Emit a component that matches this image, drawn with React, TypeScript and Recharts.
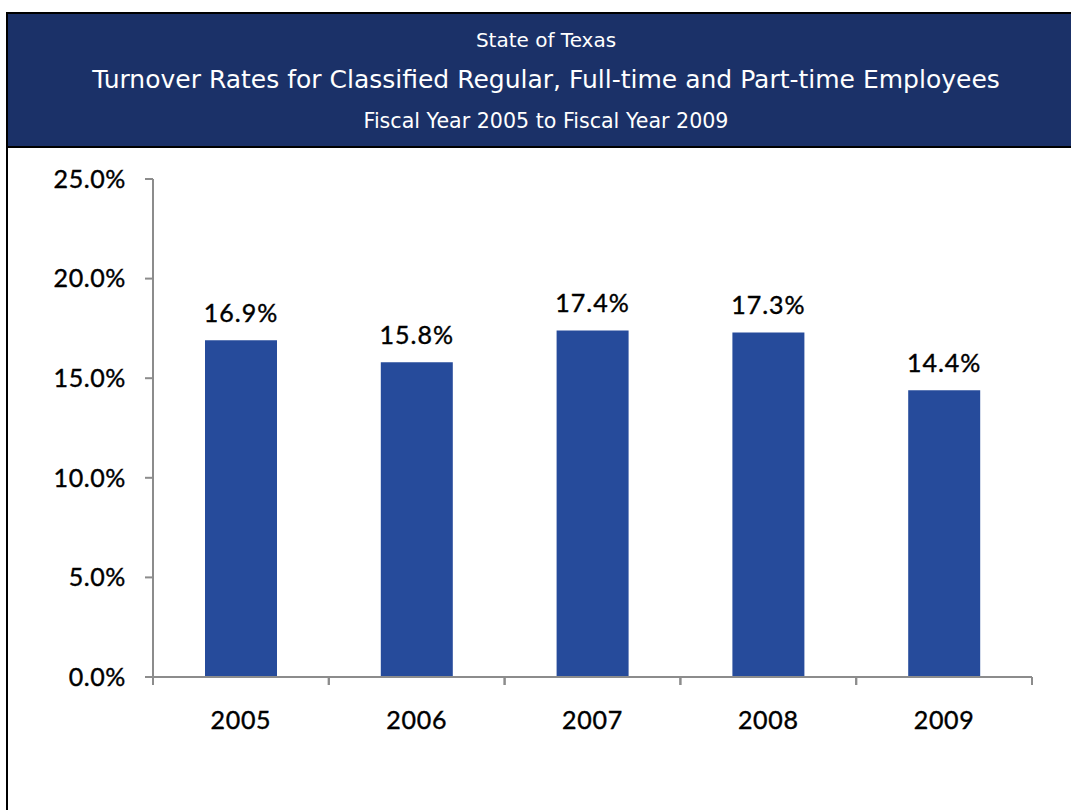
import { Bar, BarChart, LabelList, XAxis, YAxis } from "recharts";

const years = ["2005", "2006", "2007", "2008", "2009"];
const turnoverRates = [16.9, 15.8, 17.4, 17.3, 14.4];
const rateTicks = [0, 5, 10, 15, 20, 25];

const data = years.map((year, i) => ({ year, rate: turnoverRates[i] }));

const NAVY = "#1b3168";
const BAR_BLUE = "#264b9b";
const AXIS_GRAY = "#8c8c8c";
const chartFont = "Lato, 'DejaVu Sans', sans-serif";
const headerFont = "'DejaVu Sans', sans-serif";

const TICK_SIZE = 8;
const X_TICK_MARGIN = 26;

// slightly heavier than plain Lato regular
const textWeight = { stroke: "#000", strokeWidth: 0.4 };

// year label, plus the small tick marks sitting on both edges of its band
const YearTick = (props: any) => {
  const { x, y, payload } = props;
  const half = payload?.offset ?? 0;
  const axisY = y - TICK_SIZE - X_TICK_MARGIN;
  return (
    <g>
      {[x - half, x + half].map((tx, i) => (
        <line
          key={i}
          x1={tx}
          x2={tx}
          y1={axisY}
          y2={axisY + TICK_SIZE}
          stroke={AXIS_GRAY}
          strokeWidth={2}
        />
      ))}
      <text
        x={x}
        y={y}
        dy="0.71em"
        textAnchor="middle"
        fill="#000"
        fontSize={25}
        letterSpacing={0.7}
        fontFamily={chartFont}
        {...textWeight}
      >
        {payload.value}
      </text>
    </g>
  );
};

const headerLine = (text: string, centerY: number, size: number) => (
  <div
    style={{
      position: "absolute",
      left: 0,
      right: 0,
      top: centerY - 15,
      lineHeight: "30px",
      textAlign: "center",
      color: "#fff",
      fontFamily: headerFont,
      fontSize: size,
      whiteSpace: "nowrap",
    }}
  >
    {text}
  </div>
);

export default function App() {
  return (
    <div
      style={{
        position: "fixed",
        left: 0,
        top: 0,
        width: 1071,
        height: 810,
        overflow: "hidden",
        background: "#fff",
      }}
    >
      <div
        style={{
          position: "absolute",
          left: 6,
          top: 12,
          width: 1078,
          height: 900,
          boxSizing: "border-box",
          borderLeft: "2px solid #000",
          borderTop: "2px solid #000",
        }}
      />
      <div
        style={{
          position: "absolute",
          left: 6,
          top: 14,
          width: 1078,
          height: 134,
          boxSizing: "border-box",
          background: NAVY,
          borderLeft: "2px solid #000",
          borderBottom: "2px solid #000",
        }}
      >
        {headerLine("State of Texas", 26, 20)}
        {headerLine(
          "Turnover Rates for Classified Regular, Full-time and Part-time Employees",
          66,
          25
        )}
        {headerLine("Fiscal Year 2005 to Fiscal Year 2009", 107, 20.6)}
      </div>

      <div style={{ position: "absolute", left: 0, top: 0 }}>
        <BarChart
          width={1071}
          height={810}
          data={data}
          margin={{ top: 179, right: 39, bottom: 0, left: 0 }}
          barSize={72}
        >
          <XAxis
            dataKey="year"
            height={133}
            axisLine={{ stroke: AXIS_GRAY, strokeWidth: 2 }}
            tickLine={false}
            tickSize={TICK_SIZE}
            tickMargin={X_TICK_MARGIN}
            tick={<YearTick />}
            interval={0}
          />
          <YAxis
            width={153}
            domain={[0, 25]}
            ticks={rateTicks}
            tickFormatter={(v: number) => `${v.toFixed(1)}%`}
            axisLine={{ stroke: AXIS_GRAY, strokeWidth: 2 }}
            tickLine={{ stroke: AXIS_GRAY, strokeWidth: 2 }}
            tickSize={TICK_SIZE}
            tickMargin={19}
            tick={{
              fill: "#000",
              fontSize: 25,
              letterSpacing: 0.6,
              fontFamily: chartFont,
              ...textWeight,
            }}
          />
          <Bar dataKey="rate" fill={BAR_BLUE} isAnimationActive={false}>
            <LabelList
              dataKey="rate"
              position="top"
              offset={18}
              formatter={(v: any) => `${Number(v).toFixed(1)}%`}
              fill="#000"
              fontSize={25}
              letterSpacing={1}
              fontFamily={chartFont}
              {...textWeight}
            />
          </Bar>
        </BarChart>
      </div>
    </div>
  );
}
